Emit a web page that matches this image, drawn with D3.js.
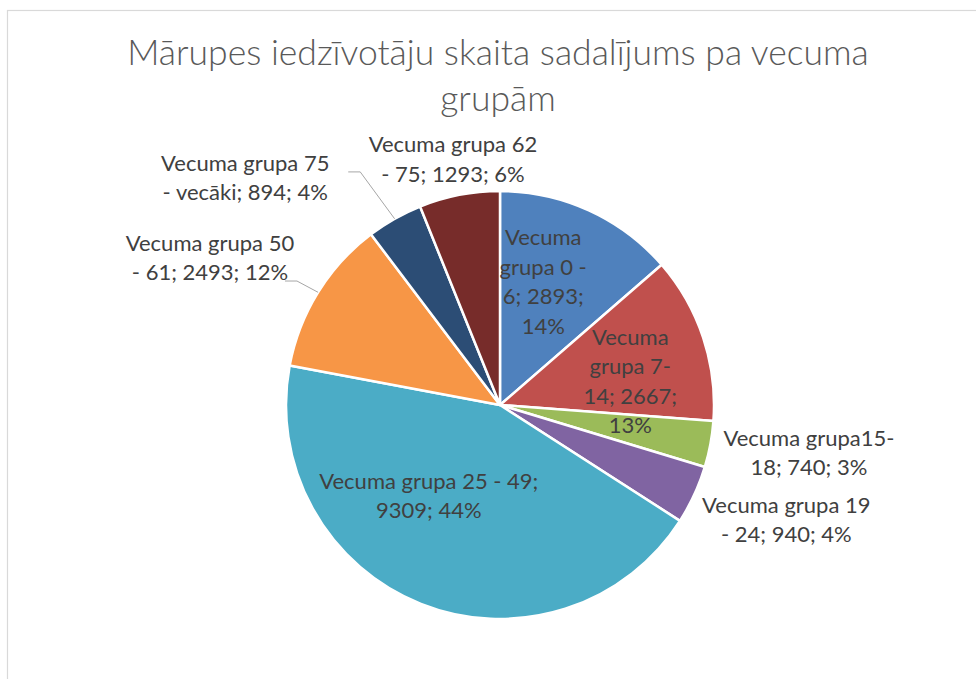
<!DOCTYPE html>
<html>
<head>
<meta charset="utf-8">
<script src="https://cdn.jsdelivr.net/npm/d3@7"></script>
<style>
  body { margin: 0; background: #fff; }
  svg { display: block; }
</style>
</head>
<body>
<svg id="chart" width="976" height="679"></svg>
<script>
// data, in the order the slices run clockwise from 12 o'clock
var groups = ["Vecuma grupa 0 - 6", "Vecuma grupa 7-14", "Vecuma grupa15-18", "Vecuma grupa 19 - 24",
              "Vecuma grupa 25 - 49", "Vecuma grupa 50 - 61", "Vecuma grupa 75 - vecāki", "Vecuma grupa 62 - 75"];
var counts = [2893, 2667, 740, 940, 9309, 2493, 894, 1293];
var colors = ["#4f81bd", "#c0504d", "#9bbb59", "#8064a2", "#4bacc6", "#f79646", "#2c4d75", "#772c2a"];
var titleLines = ["Mārupes iedzīvotāju skaita sadalījums pa vecuma", "grupām"];

// label layout: inside or outside the pie, wrap width, nudge from the centroid
var labelInside = [true, true, false, false, true, false, false, false];
var wrapWidth = [100, 100, 188, 173, 240, 173, 173, 173];
var labelNudge = [[-12, -2], [4, 18], [14, -7], [14, -11], [-22, -33], [-35, 11], [-107, 34], [10, 49]];
var leaderFrom = [null, null, null, null, null, [75, 23], [103, -6], null];

function draw_chart() {
    var svg = d3.select("#chart"),
        cx = 500, cy = 405, radius = 214,
        lineH = 29.5,
        total = d3.sum(counts);

    // chart area border (runs off the right and bottom)
    svg.append("rect").attr("x", 7.5).attr("y", 10.5).attr("width", 1000).attr("height", 700)
        .attr("fill", "none").attr("stroke", "#d9d9d9").attr("stroke-width", 1.2);

    svg.append("text").attr("x", 498).attr("y", 65)
        .attr("text-anchor", "middle").attr("fill", "#595959")
        .style("font-family", "Lato, 'Open Sans', sans-serif").style("font-weight", 300).style("font-size", "35.5px")
        .selectAll("tspan").data(titleLines).enter().append("tspan")
        .attr("x", 498).attr("dy", (d, i) => i ? 46 : 0).text(d => d);

    var pie = d3.pie().sort(null).value(d => d)(counts),
        arc = d3.arc().innerRadius(0).outerRadius(radius),
        edge = d3.arc().innerRadius(radius).outerRadius(radius);

    var g = svg.append("g").attr("transform", "translate(" + [cx, cy] + ")");

    g.selectAll(".slice").data(pie).enter().append("path").classed("slice", true)
        .attr("d", arc)
        .attr("fill", (d, i) => colors[i])
        .attr("stroke", "#fff").attr("stroke-width", 2.5).attr("stroke-linejoin", "round");

    var font = "Lato, 'Open Sans', sans-serif", fsize = "22px";
    var probe = svg.append("text").style("font-family", font).style("font-size", fsize);
    function width(s) { probe.text(s); return probe.node().getComputedTextLength(); }

    function wrap(s, maxW) {
        var re = /([^\s-]*-(?=\S)|\S+)(\s*)/g, m, lines = [], line = "", sep = "";
        while ((m = re.exec(s)) !== null) {
            var cand = line + sep + m[1];
            if (line !== "" && width(cand) > maxW) { lines.push(line); line = m[1]; }
            else { line = cand; }
            sep = m[2] ? " " : "";
        }
        lines.push(line);
        return lines;
    }

    var labels = g.selectAll(".lbl").data(pie).enter().append("g").classed("lbl", true)
        .attr("transform", (d, i) => {
            var R = labelInside[i] ? 133 : 300,
                c = d3.arc().innerRadius(R).outerRadius(R).centroid(d);
            return "translate(" + [c[0] + labelNudge[i][0], c[1] + labelNudge[i][1]] + ")";
        });

    labels.each(function(d, i) {
        var txt = groups[i] + "; " + d.value + "; " + Math.round(d.value / total * 100) + "%",
            lines = wrap(txt, wrapWidth[i]);
        d3.select(this).append("text")
            .attr("text-anchor", "middle").attr("fill", "#404040")
            .style("font-family", font).style("font-size", fsize)
            .selectAll("tspan").data(lines).enter().append("tspan")
            .attr("x", 0)
            .attr("y", (l, k) => (k - (lines.length - 1) / 2) * lineH)
            .attr("dy", "0.35em")
            .text(l => l);
    });
    probe.remove();

    // leader lines for the two labels that sit away from their slices
    pie.forEach((d, i) => {
        if (!leaderFrom[i]) return;
        var R = 300,
            c = d3.arc().innerRadius(R).outerRadius(R).centroid(d),
            sx = c[0] + labelNudge[i][0] + leaderFrom[i][0],
            sy = c[1] + labelNudge[i][1] + leaderFrom[i][1],
            e = edge.centroid(d);
        g.append("path")
            .attr("d", d3.line()([[sx, sy], [sx + 12, sy], e]))
            .attr("fill", "none").attr("stroke", "#a6a6a6").attr("stroke-width", 1);
    });
}

draw_chart();
</script>
</body>
</html>
